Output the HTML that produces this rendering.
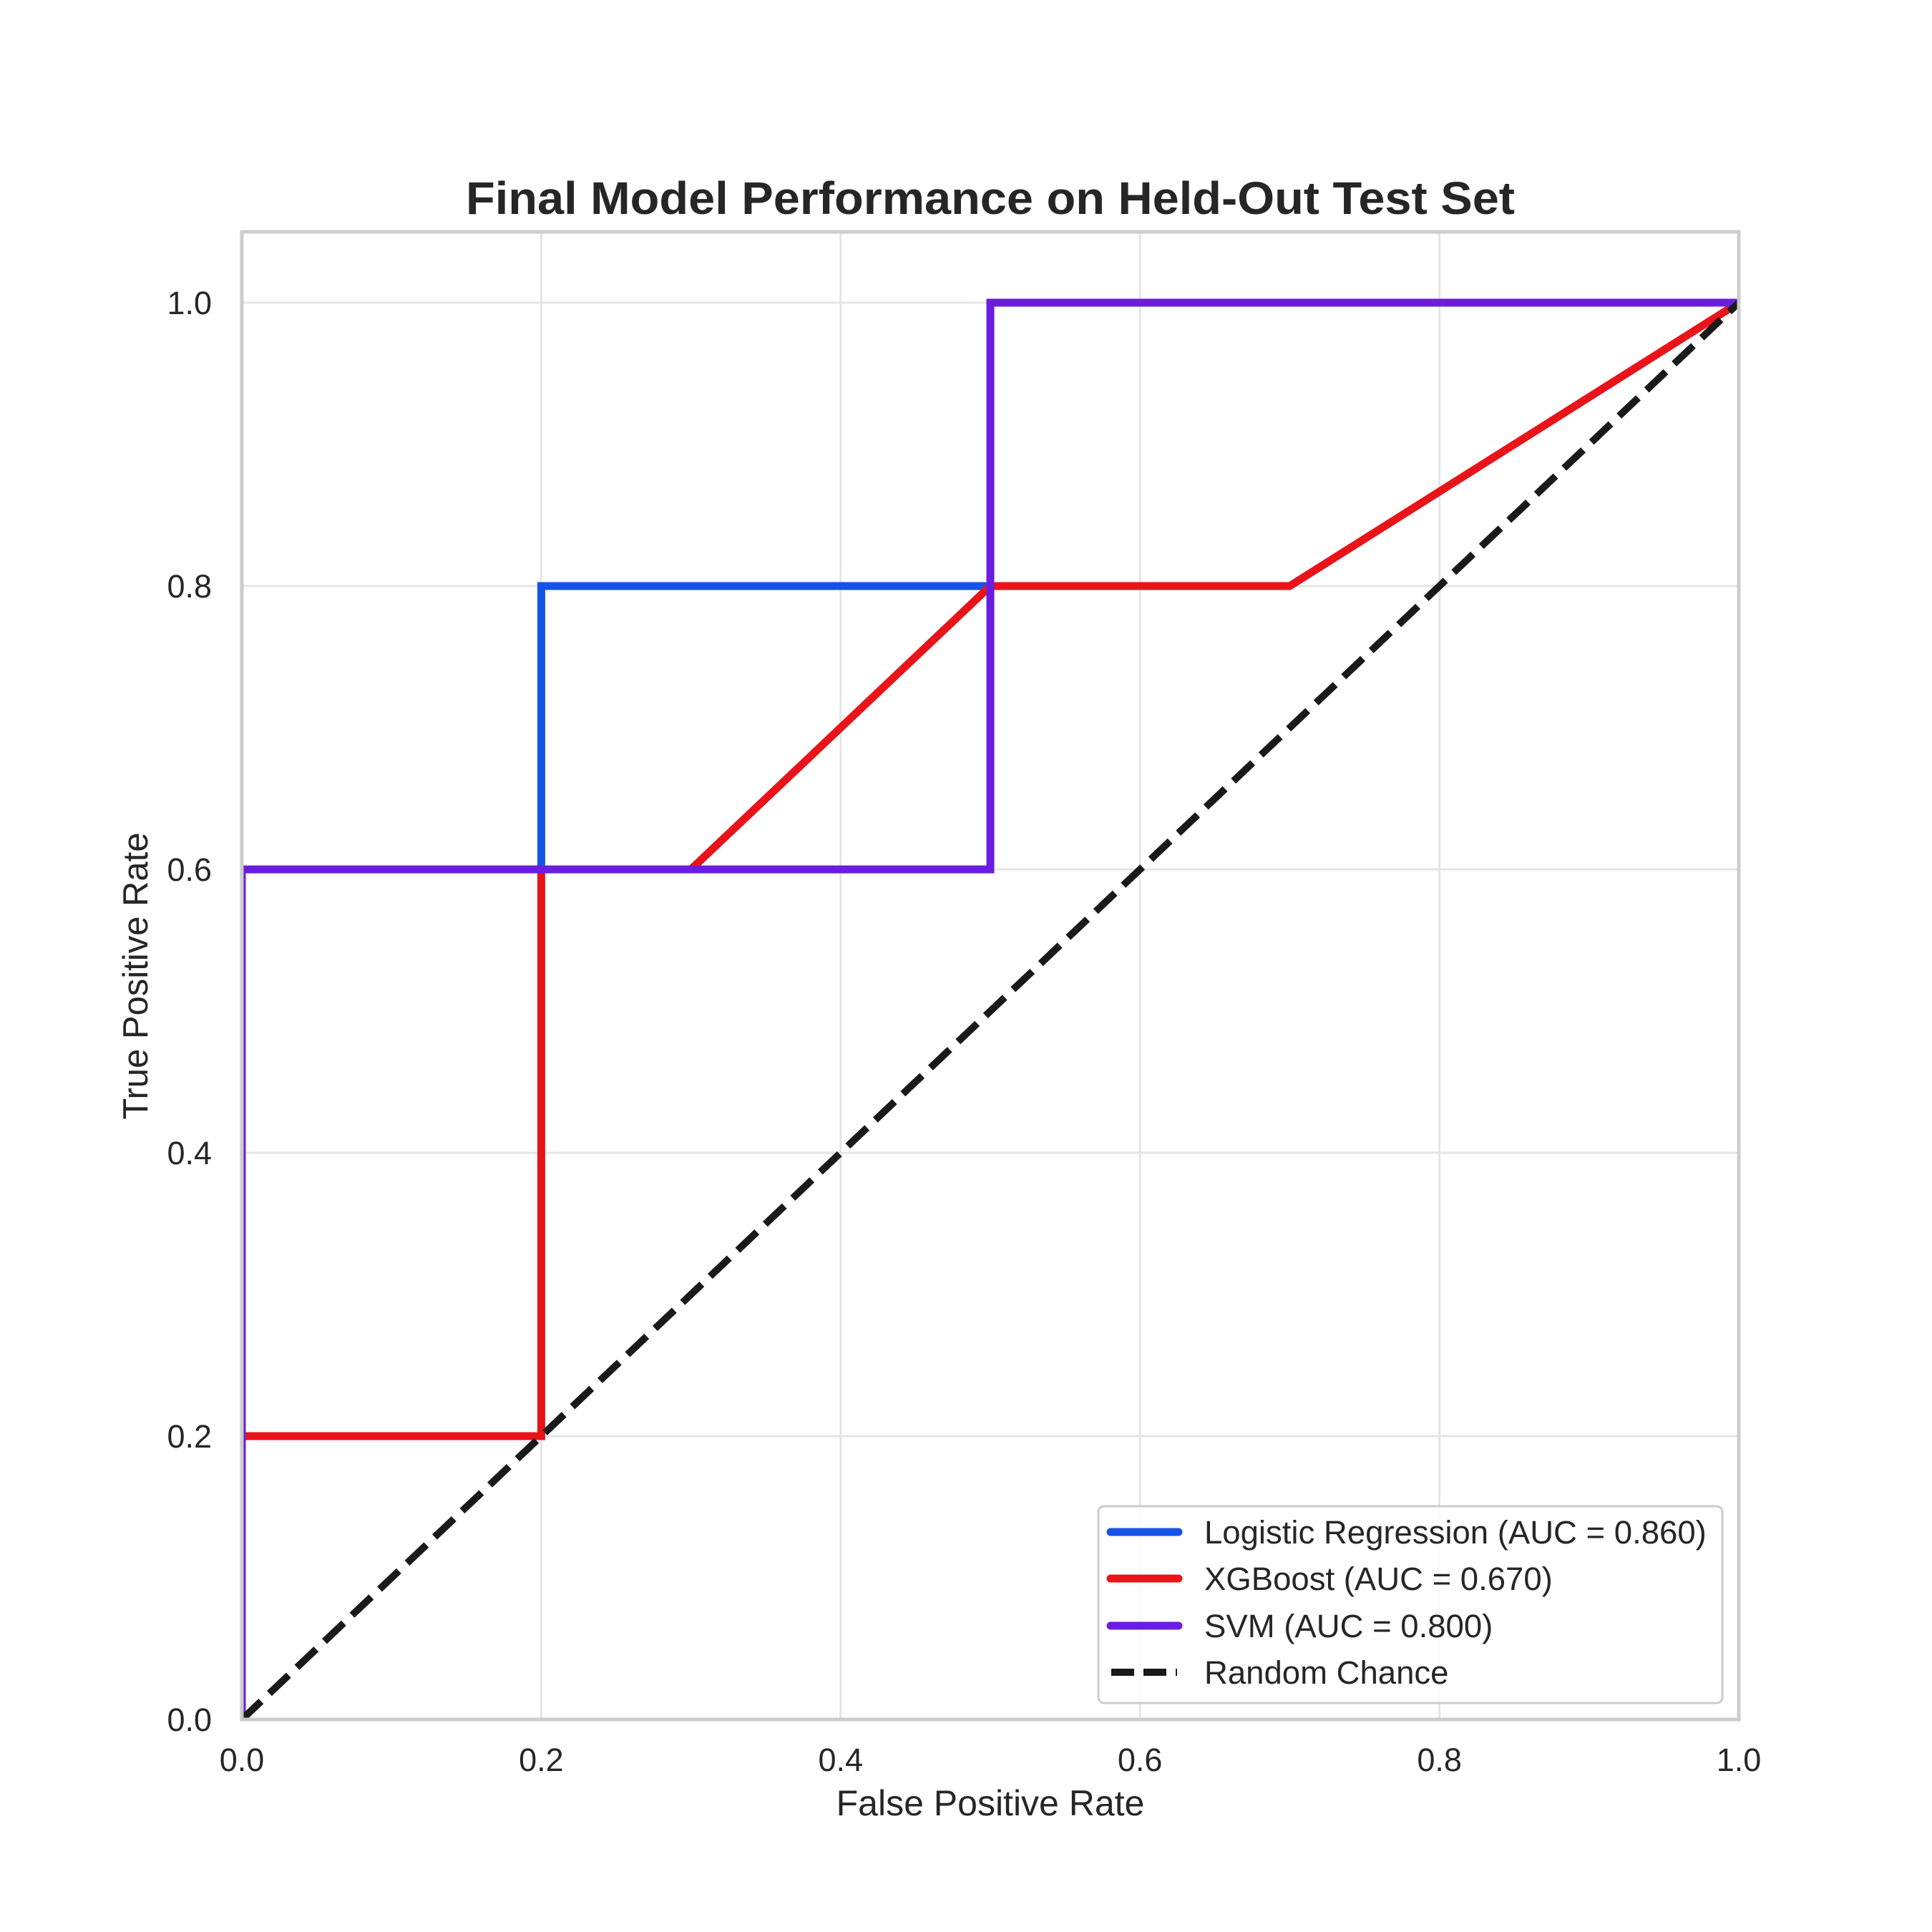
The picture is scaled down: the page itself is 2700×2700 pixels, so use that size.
<!DOCTYPE html>
<html><head><meta charset="utf-8">
<style>html,body{margin:0;padding:0;background:#fff}svg{display:block}</style>
</head><body>
<svg id="chart" width="2700" height="2700" viewBox="0 0 2700 2700" xmlns="http://www.w3.org/2000/svg" font-family="'Liberation Sans', Arial, sans-serif">
<rect width="2700" height="2700" fill="#fff"/>
<defs><clipPath id="plotclip"><rect x="338" y="324" width="2092" height="2079"/></clipPath></defs>
<g id="grid"></g>
<g id="series" clip-path="url(#plotclip)"></g>
<rect x="338" y="324" width="2092" height="2079" fill="none" stroke="#cccccc" stroke-width="5"/>
<g id="ticks"></g>
<text x="1384" y="299" text-anchor="middle" font-size="64" font-weight="bold" fill="#262626" textLength="1466" lengthAdjust="spacingAndGlyphs">Final Model Performance on Held-Out Test Set</text>
<text x="1384" y="2537" text-anchor="middle" font-size="50" fill="#262626">False Positive Rate</text>
<text transform="translate(206,1364) rotate(-90)" text-anchor="middle" font-size="49" fill="#262626">True Positive Rate</text>
<g id="legend"></g>
</svg>
<script>
const xTicks = [0, 0.2, 0.4, 0.6, 0.8, 1.0];
const yTicks = [0, 0.2, 0.4, 0.6, 0.8, 1.0];
const tickLabels = ["0.0", "0.2", "0.4", "0.6", "0.8", "1.0"];
const seriesNames = ["Logistic Regression (AUC = 0.860)", "XGBoost (AUC = 0.670)", "SVM (AUC = 0.800)", "Random Chance"];
const lrFpr = [0, 0, 0.2, 0.2, 0.5, 0.5, 1];
const lrTpr = [0, 0.6, 0.6, 0.8, 0.8, 1.0, 1.0];
const xgbFpr = [0, 0, 0.2, 0.2, 0.3, 0.5, 0.7, 1];
const xgbTpr = [0, 0.2, 0.2, 0.6, 0.6, 0.8, 0.8, 1.0];
const svmFpr = [0, 0, 0.5, 0.5, 1];
const svmTpr = [0, 0.6, 0.6, 1.0, 1.0];
const randFpr = [0, 1];
const randTpr = [0, 1];

const NS = "http://www.w3.org/2000/svg";
const X0 = 338, X1 = 2430, YB = 2403, YT = 324;
const xMin = 0, xMax = 1, yMin = 0, yMax = 1.05;
const sx = v => X0 + (v - xMin) / (xMax - xMin) * (X1 - X0);
const sy = v => YB - (v - yMin) / (yMax - yMin) * (YB - YT);
function mk(tag, attrs, parent) { const e = document.createElementNS(NS, tag); for (const k in attrs) e.setAttribute(k, attrs[k]); parent.appendChild(e); return e; }

const grid = document.getElementById('grid');
const ticks = document.getElementById('ticks');
xTicks.forEach((t, i) => {
  const l = mk('line', {x1: sx(t), x2: sx(t), y1: YT, y2: YB, stroke: '#e5e5e5', 'stroke-width': 3}, grid);
  
  
  const tx = mk('text', {x: sx(t), y: 2475, 'text-anchor': 'middle', 'font-size': 45, fill: '#262626'}, ticks);
  tx.textContent = tickLabels[i];
  
  
});
yTicks.forEach((t, i) => {
  const l = mk('line', {x1: X0, x2: X1, y1: sy(t), y2: sy(t), stroke: '#e5e5e5', 'stroke-width': 3}, grid);
  
  
  const tx = mk('text', {x: 296, y: sy(t) + 16, 'text-anchor': 'end', 'font-size': 45, fill: '#262626'}, ticks);
  tx.textContent = tickLabels[i];
  
  
});

const series = document.getElementById('series');
const defs = [
  {xs: lrFpr, ys: lrTpr, color: '#1553e6', dash: null, name: 'logistic-regression-line'},
  {xs: xgbFpr, ys: xgbTpr, color: '#e8141a', dash: null, name: 'xgboost-line'},
  {xs: svmFpr, ys: svmTpr, color: '#6a1de0', dash: null, name: 'svm-line'},
  {xs: randFpr, ys: randTpr, color: '#1a1a1a', dash: '37 16', name: 'random-chance-line'}
];
defs.forEach(d => {
  const pts = d.xs.map((x, i) => sx(x).toFixed(1) + ',' + sy(d.ys[i]).toFixed(1)).join(' ');
  const a = {points: pts, fill: 'none', stroke: d.color, 'stroke-width': d.dash ? 10 : 11, 'stroke-linejoin': 'miter', 'stroke-linecap': 'butt'};
  if (d.dash) a['stroke-dasharray'] = d.dash;
  const p = mk('polyline', a, series);
  
  
});

const legend = document.getElementById('legend');


const box = mk('rect', {x: 1535, y: 2105, width: 872, height: 275, rx: 8, fill: 'rgba(255,255,255,0.8)', stroke: '#cccccc', 'stroke-width': 3}, legend);


const rowY = [2141, 2206, 2272, 2337];
defs.forEach((d, i) => {
  const a = {x1: 1552, x2: 1647, y1: rowY[i], y2: rowY[i], stroke: d.color, 'stroke-width': d.dash ? 10 : 11, 'stroke-linecap': d.dash ? 'butt' : 'round'};
  if (d.dash) { a['stroke-dasharray'] = '32 13'; a.x1 = 1553; a.x2 = 1645; }
  const l = mk('line', a, legend);
  
  
  const t = mk('text', {x: 1683, y: rowY[i] + 16, 'font-size': 45.5, fill: '#262626'}, legend);
  t.textContent = seriesNames[i];
  
  
});
</script>
</body></html>
